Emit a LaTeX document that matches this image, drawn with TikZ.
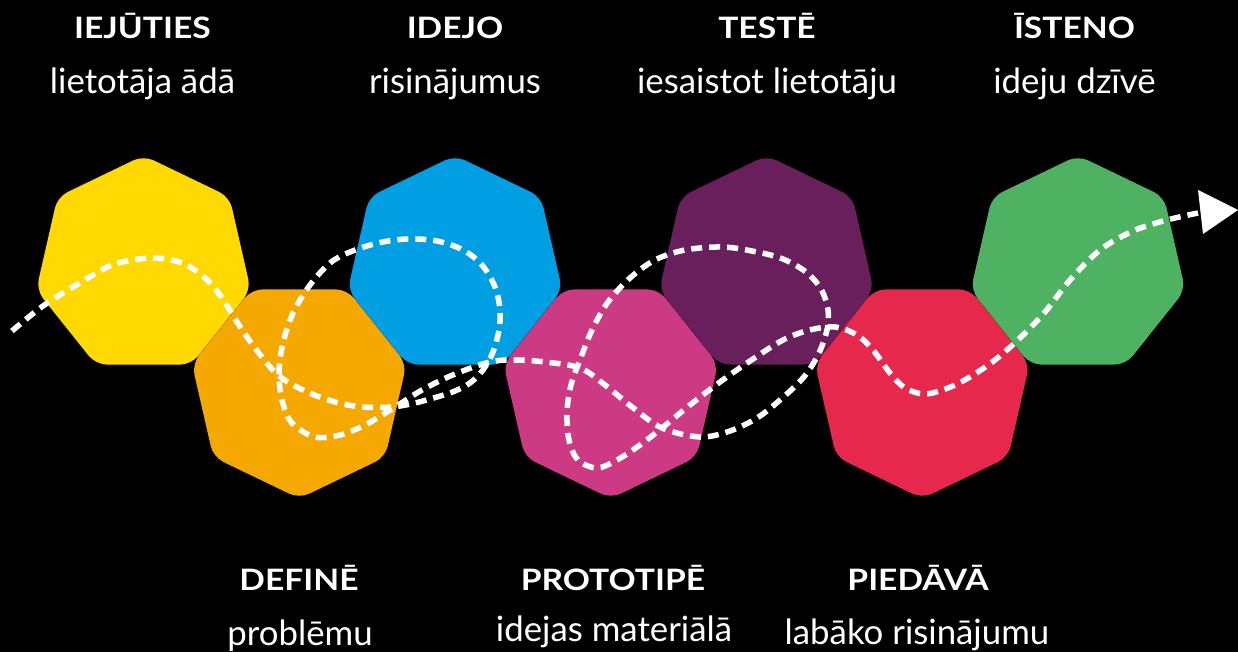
\documentclass[tikz,border=0pt]{standalone}
\usepackage{fontspec}
\setmainfont{Lato}
\newfontfamily\titlefont[FakeStretch=1.14]{Lato}
\usetikzlibrary{shapes.geometric}
\definecolor{cyellow}{HTML}{FFD900}
\definecolor{corange}{HTML}{F5A800}
\definecolor{cblue}{HTML}{009FE3}
\definecolor{cpink}{HTML}{CC3A84}
\definecolor{cpurple}{HTML}{6A1F5D}
\definecolor{cred}{HTML}{E5284C}
\definecolor{cgreen}{HTML}{4FB263}
\begin{document}
\begin{tikzpicture}[x=1pt,y=-1pt,
  hept/.style={regular polygon, regular polygon sides=7, minimum size=220pt,
    inner sep=0pt, outer sep=0pt, rounded corners=11pt},
  heptup/.style={hept, fill=#1},
  heptdown/.style={hept, shape border rotate=180, fill=#1},
  ttl/.style={text=white, inner sep=0pt, anchor=base,
    font=\titlefont\bfseries\fontsize{29.5}{29.5}\selectfont},
  sub/.style={text=white, inner sep=0pt, anchor=base,
    font=\fontsize{34.8}{36}\selectfont},
  trail/.style={white, line width=5.5pt, dash pattern=on 11pt off 7pt}]
\fill[black] (0,0) rectangle (1238,652);
\useasboundingbox (0,0) rectangle (1238,652);

\node[heptup=cyellow]   (h1) at (143.5,265.5) {};
\node[heptdown=corange] (h2) at (299.25,388.5) {};
\node[heptup=cblue]     (h3) at (455,265.5) {};
\node[heptdown=cpink]   (h4) at (610.75,388.5) {};
\node[heptup=cpurple]   (h5) at (766.5,265.5) {};
\node[heptdown=cred]    (h6) at (922.25,388.5) {};
\node[heptup=cgreen]    (h7) at (1078,265.5) {};

\draw[trail] plot[smooth, tension=0.55] coordinates {
 (12,331) (43,306) (83,281) (115,264) (152,258) (182,263) (205,278) (222,298)
 (237,322) (255,348) (278,375) (305,391) (335,402) (362,407) (392,407)
 (415,403) (437,397) (455,391) (470,383) (483,370) (493,352) (499,330)
 (500,310) (495,287) (482,265) (463,250) (437,241) (407,239) (378,243)
 (350,252) (330,263) (310,285) (293,313) (283,343) (279,372) (282,400)
 (292,423) (315,437) (340,435) (365,425) (392,409) (422,390) (455,374)
 (490,362) (515,360) (545,362) (580,368) (605,385) (632,407) (662,428)
 (700,437) (730,431) (757,418) (780,400) (803,378) (818,355) (827,330)
 (828,310) (821,289) (806,272) (783,259) (757,252) (723,247) (685,250)
 (655,260) (630,278) (608,302) (592,330) (580,360) (571,385) (567,412)
 (569,440) (578,460) (597,468) (617,460) (640,445) (662,428) (690,405)
 (720,382) (750,361) (783,340) (810,330) (835,327) (857,335) (873,350)
 (890,373) (905,388) (925,394) (948,388) (970,377) (995,360) (1020,338)
 (1045,312) (1070,280) (1100,250) (1133,231) (1167,220) (1198,213)};
\coordinate (tipA) at (1198,190);
\coordinate (tipB) at (1238,210);
\coordinate (tipC) at (1203,234);
\fill[white] (tipA) -- (tipB) -- (tipC) -- cycle;

\node[ttl] (t1) at (142.5,39) {IEJŪTIES};
\node[sub] (s1) at (142.5,94) {lietotāja ādā};
\node[ttl] (t3) at (455,39) {IDEJO};
\node[sub] (s3) at (455,94) {risinājumus};
\node[ttl] (t5) at (767,39) {TESTĒ};
\node[sub] (s5) at (767,94) {iesaistot lietotāju};
\node[ttl] (t7) at (1074.5,39) {ĪSTENO};
\node[sub] (s7) at (1074.5,94) {ideju dzīvē};

\node[ttl] (t2) at (299,590) {DEFINĒ};
\node[sub] (s2) at (300,645) {problēmu};
\node[ttl] (t4) at (613,590) {PROTOTIPĒ};
\node[sub] (s4) at (614,641) {idejas materiālā};
\node[ttl] (t6) at (918,590) {PIEDĀVĀ};
\node[sub] (s6) at (917,644) {labāko risinājumu};
\end{tikzpicture}
\end{document}
